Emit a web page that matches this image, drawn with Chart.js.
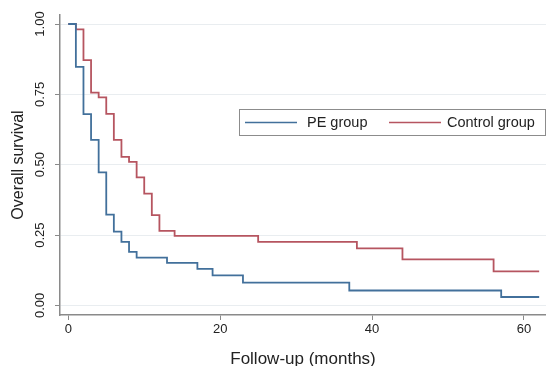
<!DOCTYPE html>
<html>
<head>
<meta charset="utf-8">
<title>Overall survival</title>
<script src="https://cdn.jsdelivr.net/npm/chart.js@4.4.1/dist/chart.umd.min.js"></script>
<style>
  html, body { margin: 0; padding: 0; background: #fff; }
  #wrap { width: 546px; height: 366px; }
</style>
</head>
<body>
<div id="wrap"><canvas id="km" width="546" height="366"></canvas></div>
<script>
  /* ---- Data (Kaplan-Meier steps) ---- */
  const peTimes      = [0, 1, 2, 3, 4, 5, 6, 7, 8, 9, 13, 17, 19, 23, 37, 57, 62];
  const peSurvival   = [1, 0.848, 0.68, 0.588, 0.473, 0.323, 0.262, 0.226, 0.19, 0.17, 0.151, 0.13, 0.107, 0.081, 0.053, 0.03, 0.03];

  const ctrlTimes    = [0, 1, 2, 3, 4, 5, 6, 7, 8, 9, 10, 11, 12, 14, 25, 38, 44, 56, 62];
  const ctrlSurvival = [1, 0.981, 0.872, 0.756, 0.739, 0.681, 0.588, 0.528, 0.51, 0.455, 0.397, 0.321, 0.265, 0.247, 0.226, 0.203, 0.164, 0.121, 0.121];

  const seriesLabels = ["PE group", "Control group"];
  const xTicks = [0, 20, 40, 60];
  const yTicks = [0, 0.25, 0.5, 0.75, 1];

  const BLUE = "#42709b";
  const RED  = "#b65560";
  const AXIS = "#8a8a8a";
  const GRID = "#e9edf0";
  const FONT = "'Liberation Sans', Arial, sans-serif";

  function toPoints(xs, ys) { return xs.map((x, i) => ({ x: x, y: ys[i] })); }

  /* ---- Legend box inside plot area ---- */
  const boxLegend = {
    id: "boxLegend",
    afterDraw(chart) {
      const ctx = chart.ctx;
      ctx.save();
      ctx.strokeStyle = "#8c8c8c";
      ctx.lineWidth = 1;
      ctx.strokeRect(239.5, 109.5, 306, 26);
      const items = [
        { x: 245, text: 307 },
        { x: 389, text: 447 }
      ];
      ctx.font = "14.5px " + FONT;
      ctx.textBaseline = "middle";
      ctx.fillStyle = "#222";
      chart.data.datasets.forEach((ds, i) => {
        const it = items[i];
        ctx.strokeStyle = ds.borderColor;
        ctx.lineWidth = 1.6;
        ctx.beginPath();
        ctx.moveTo(it.x, 122.5);
        ctx.lineTo(it.x + 52, 122.5);
        ctx.stroke();
        ctx.fillText(ds.label, it.text, 123);
      });
      ctx.restore();
    }
  };

  new Chart(document.getElementById("km"), {
    type: "line",
    data: {
      datasets: [
        {
          label: seriesLabels[0],
          data: toPoints(peTimes, peSurvival),
          borderColor: BLUE,
          borderWidth: 1.8,
          stepped: true,
          pointRadius: 0,
          fill: false
        },
        {
          label: seriesLabels[1],
          data: toPoints(ctrlTimes, ctrlSurvival),
          borderColor: RED,
          borderWidth: 1.8,
          stepped: true,
          pointRadius: 0,
          fill: false
        }
      ]
    },
    options: {
      responsive: false,
      animation: false,
      layout: { padding: { top: 15, right: 0, left: 0, bottom: 0 } },
      plugins: {
        legend: { display: false },
        tooltip: { enabled: false }
      },
      scales: {
        x: {
          type: "linear",
          min: -1.09,
          max: 62.9,
          afterBuildTicks: s => { s.ticks = xTicks.map(v => ({ value: v })); },
          afterFit: s => { s.height = 51; },
          border: { display: true, color: AXIS, width: 1.5 },
          grid: { drawOnChartArea: false, drawTicks: true, tickLength: 5, tickColor: AXIS },
          ticks: { color: "#222", font: { family: FONT, size: 13 }, padding: 2, maxRotation: 0 },
          title: {
            display: true,
            text: "Follow-up (months)",
            color: "#222",
            font: { family: FONT, size: 17, lineHeight: 0.8 },
            padding: 0
          }
        },
        y: {
          type: "linear",
          min: -0.034,
          max: 1.032,
          afterBuildTicks: s => { s.ticks = yTicks.map(v => ({ value: v })); },
          afterFit: s => { s.width = 60; },
          border: { display: true, color: AXIS, width: 1.5 },
          grid: { color: GRID, lineWidth: 1, drawTicks: true, tickLength: 5, tickColor: AXIS },
          ticks: {
            color: "#222",
            font: { family: FONT, size: 13 },
            padding: 2,
            minRotation: 90,
            maxRotation: 90,
            crossAlign: "center",
            callback: v => Number(v).toFixed(2)
          },
          title: {
            display: true,
            text: "Overall survival",
            color: "#222",
            font: { family: FONT, size: 16, lineHeight: 1.2 },
            padding: 9
          }
        }
      }
    },
    plugins: [boxLegend]
  });
</script>
</body>
</html>
